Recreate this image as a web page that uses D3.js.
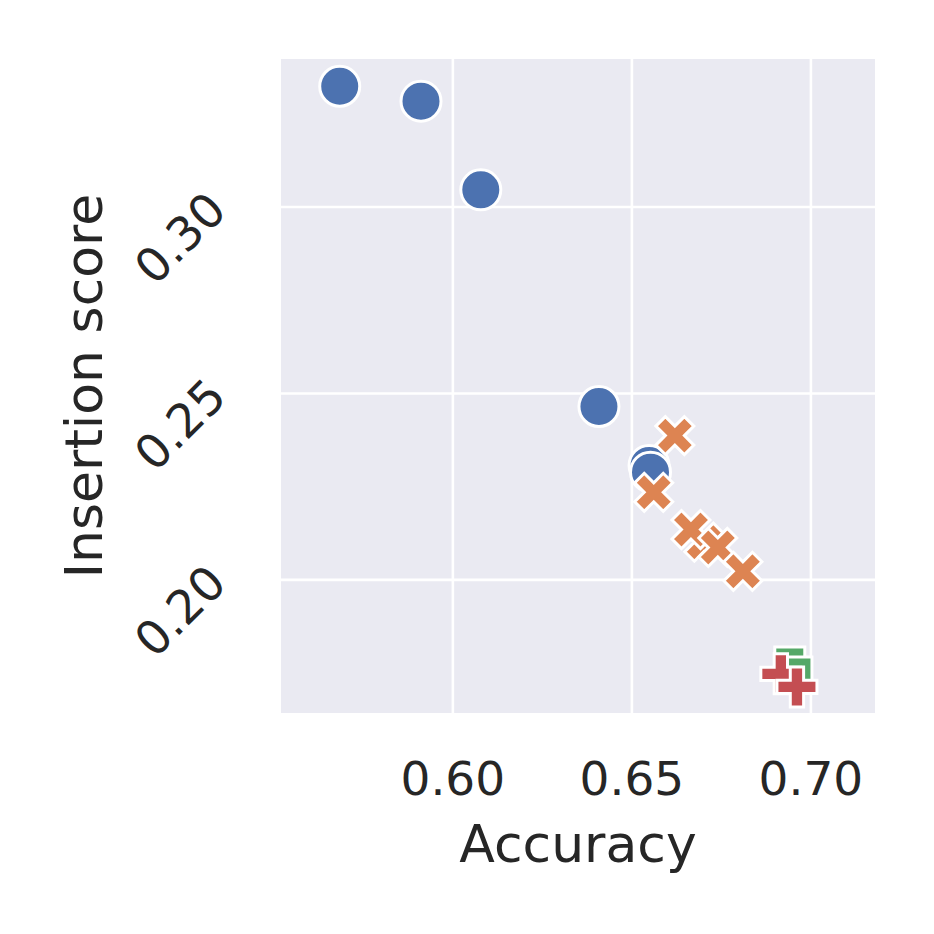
<!DOCTYPE html>
<html>
<head>
<meta charset="utf-8">
<script src="https://cdn.jsdelivr.net/npm/d3@7"></script>
<style>
  html, body { margin: 0; padding: 0; background: #ffffff; }
  svg { display: block; font-family: "DejaVu Sans", sans-serif; }
</style>
</head>
<body>
<svg id="chart" width="934" height="934"></svg>
<script>
// ---- data ----
const groups = ["group1", "group2", "group3", "group4"];
const group1Acc = [0.5684, 0.5911, 0.6078, 0.6408, 0.6548, 0.6552];
const group1Ins = [0.3324, 0.3284, 0.3046, 0.2465, 0.2307, 0.2289];
const group2Acc = [0.6620, 0.6561, 0.6701, 0.6665, 0.6740, 0.6810];
const group2Ins = [0.2387, 0.2235, 0.2101, 0.2135, 0.2087, 0.2023];
const group3Acc = [0.6941, 0.6961];
const group3Ins = [0.1780, 0.1753];
const group4Acc = [0.6916, 0.6961];
const group4Ins = [0.1748, 0.1713];
const xTicks = [0.60, 0.65, 0.70];
const yTicks = [0.20, 0.25, 0.30];
const xLabel = "Accuracy";
const yLabel = "Insertion score";

const colors = ["#4c72b0", "#dd8452", "#55a868", "#c44e52"];
const series = [
  { acc: group1Acc, ins: group1Ins },
  { acc: group2Acc, ins: group2Ins },
  { acc: group3Acc, ins: group3Ins },
  { acc: group4Acc, ins: group4Ins }
];

const svg = d3.select("#chart");
const L = 281, R = 875, T = 59, B = 713;
const x = d3.scaleLinear().domain([0.5520, 0.7179]).range([L, R]);
const y = d3.scaleLinear().domain([0.1643, 0.3397]).range([B, T]);

svg.append("rect").attr("x", L).attr("y", T).attr("width", R - L).attr("height", B - T)
  .attr("fill", "#eaeaf2");

// grid
svg.append("g").selectAll("line").data(xTicks).join("line")
  .attr("x1", d => x(d)).attr("x2", d => x(d)).attr("y1", T).attr("y2", B)
  .attr("stroke", "#ffffff").attr("stroke-width", 2.6);
svg.append("g").selectAll("line").data(yTicks).join("line")
  .attr("y1", d => y(d)).attr("y2", d => y(d)).attr("x1", L).attr("x2", R)
  .attr("stroke", "#ffffff").attr("stroke-width", 2.6);

// tick labels
svg.append("g").selectAll("text").data(xTicks).join("text")
  .attr("x", d => x(d)).attr("y", 795)
  .attr("text-anchor", "middle").attr("font-size", 47).attr("fill", "#262626")
  .text(d => d3.format(".2f")(d));
svg.append("g").selectAll("text").data(yTicks).join("text")
  .attr("transform", d => `translate(180,${y(d) + 31}) rotate(-45)`)
  .attr("text-anchor", "middle").attr("dominant-baseline", "central")
  .attr("font-size", 47).attr("fill", "#262626")
  .text(d => d3.format(".2f")(d));

// axis labels
svg.append("text").attr("x", (L + R) / 2).attr("y", 862)
  .attr("text-anchor", "middle").attr("font-size", 52).attr("fill", "#262626")
  .text(xLabel);
svg.append("text").attr("transform", `translate(102,${(T + B) / 2}) rotate(-90)`)
  .attr("text-anchor", "middle").attr("font-size", 52).attr("fill", "#262626")
  .text(yLabel);

// markers
function polyPath(pts, s) {
  return "M" + pts.map(p => [p[0] * s, p[1] * s].join(",")).join("L") + "Z";
}
const xShape = [[-1,-2],[0,-1],[1,-2],[2,-1],[1,0],[2,1],[1,2],[0,1],[-1,2],[-2,1],[-1,0],[-2,-1]].map(p => [p[0]/4, p[1]/4]);
const plusShape = [[-1,-3],[1,-3],[1,-1],[3,-1],[3,1],[1,1],[1,3],[-1,3],[-1,1],[-3,1],[-3,-1],[-1,-1]].map(p => [p[0]/6, p[1]/6]);
const sqShape = [[-0.5,-0.5],[0.5,-0.5],[0.5,0.5],[-0.5,0.5]];
const markerPaths = [
  null,
  polyPath(xShape, 38),
  polyPath(sqShape, 30),
  polyPath(plusShape, 40)
];

const pts = svg.append("g");
series.forEach((s, gi) => {
  const data = s.acc.map((a, i) => ({ a, v: s.ins[i] }));
  if (gi === 0) {
    pts.append("g").selectAll("circle").data(data).join("circle")
      .attr("cx", d => x(d.a)).attr("cy", d => y(d.v)).attr("r", 20)
      .attr("fill", colors[gi]).attr("stroke", "#ffffff").attr("stroke-width", 3);
  } else {
    pts.append("g").selectAll("path").data(data).join("path")
      .attr("transform", d => `translate(${x(d.a)},${y(d.v)})`)
      .attr("d", markerPaths[gi])
      .attr("fill", colors[gi]).attr("stroke", "#ffffff").attr("stroke-width", 3)
      .attr("stroke-linejoin", "miter");
  }
});
</script>
</body>
</html>
